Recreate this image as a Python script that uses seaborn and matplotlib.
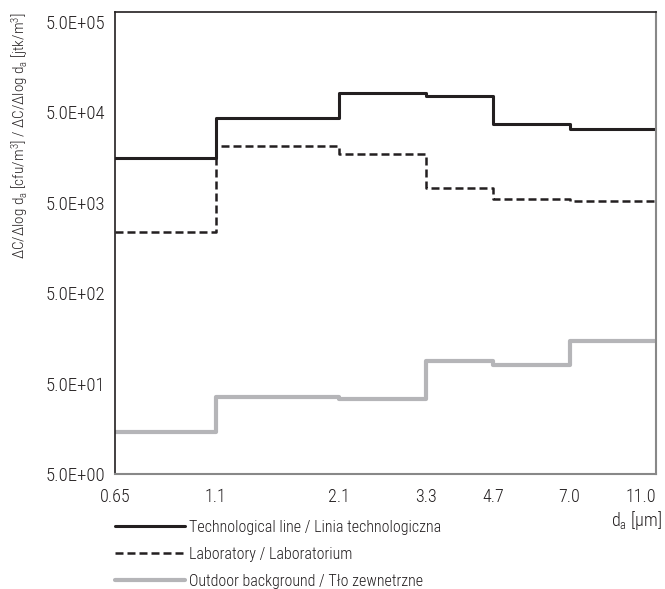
import numpy as np
import pandas as pd
import matplotlib.pyplot as plt
import seaborn as sns
from matplotlib import font_manager
from matplotlib.ticker import NullLocator

# bin edges (aerodynamic diameter, um) and concentrations per bin
edges = [0.65, 1.1, 2.1, 3.3, 4.7, 7.0, 11.0]
edge_labels = ['0.65', '1.1', '2.1', '3.3', '4.7', '7.0', '11.0']
tech_line = [15700, 43400, 81500, 76700, 37000, 33000]
laboratory = [2380, 21100, 17200, 7200, 5450, 5230]
outdoor = [14.7, 35.9, 34.1, 89.9, 81.3, 149.6]

series_names = ['Technological line / Linia technologiczna',
                'Laboratory / Laboratorium',
                'Outdoor background / Tło zewnetrzne']

y_ticks = [5, 50, 500, 5000, 50000, 500000]
y_labels = ['5.0E+00', '5.0E+01', '5.0E+02', '5.0E+03', '5.0E+04', '5.0E+05']

# pick a narrow-ish font that is actually installed
installed = {f.name for f in font_manager.fontManager.ttflist}
candidates = ['Roboto Condensed', 'Liberation Sans Narrow', 'DejaVu Sans Condensed',
              'Roboto', 'Liberation Sans', 'DejaVu Sans']
main_font = next(f for f in candidates if f in installed)

sns.set_style('white')
plt.rcParams['font.family'] = [main_font, 'DejaVu Sans']
plt.rcParams['font.weight'] = 'light'
plt.rcParams['mathtext.fontset'] = 'custom'
plt.rcParams['mathtext.rm'] = main_font + ':light'
plt.rcParams['mathtext.it'] = main_font + ':light'

ink = '#231f20'

fig = plt.figure(figsize=(6.65, 5.89), dpi=100)
ax = fig.add_axes([115/665, 1 - 474/589, 541/665, 462/589])

styles = [dict(color=ink, linewidth=2.2, linestyle='-'),
          dict(color=ink, linewidth=1.8, linestyle=(0, (3.2, 1.6))),
          dict(color='#b5b5b8', linewidth=3.0, linestyle='-')]

for name, vals, st in zip(series_names, [tech_line, laboratory, outdoor], styles):
    df = pd.DataFrame({'d': edges, 'c': list(vals) + [vals[-1]]})
    sns.lineplot(data=df, x='d', y='c', ax=ax, drawstyle='steps-post',
                 label=name, **st)

ax.set_xscale('log')
ax.set_yscale('log')
ax.set_xlim(0.65, 11.0)
ax.set_ylim(5, 6.45e5)
ax.set_xticks(edges)
ax.set_xticklabels(edge_labels)
ax.xaxis.set_minor_locator(NullLocator())
ax.set_yticks(y_ticks)
ax.set_yticklabels(y_labels)
ax.yaxis.set_minor_locator(NullLocator())

ax.tick_params(axis='y', length=0, pad=7, labelsize=13.5, colors=ink)
ax.tick_params(axis='x', length=5, width=1, direction='out', color='#888888',
               pad=5, labelsize=13, labelcolor=ink)
last = ax.get_xticklabels()[-1]
last.set_ha('right')

for side in ['left', 'top']:
    ax.spines[side].set_color(ink)
    ax.spines[side].set_linewidth(1.2)
for side in ['right', 'bottom']:
    ax.spines[side].set_color('#888888')
    ax.spines[side].set_linewidth(1.5)

ax.set_xlabel('')
ax.set_ylabel('')
fig.text(20/665, 1 - 12/589,
         'ΔC/Δlog d$_\\mathrm{a}$ [cfu/m$^\\mathrm{3}$] / ΔC/Δlog d$_\\mathrm{a}$ [jtk/m$^\\mathrm{3}$]',
         rotation=90, ha='center', va='top', fontsize=11, color=ink)

fig.text(662/665, 1 - 520/589, 'd$_\\mathrm{a}$ [µm]', ha='right', va='center',
         fontsize=13, color=ink)

ax.get_legend().remove()
handles, labels = ax.get_legend_handles_labels()
fig.legend(handles, labels, loc='upper left',
           bbox_to_anchor=(115/665, 1 - 520/589), frameon=False,
           fontsize=11.5, handlelength=4.4, handletextpad=0.25,
           labelspacing=0.75, borderpad=0, borderaxespad=0,
           labelcolor=ink)

plt.savefig('out.png', dpi=100)
